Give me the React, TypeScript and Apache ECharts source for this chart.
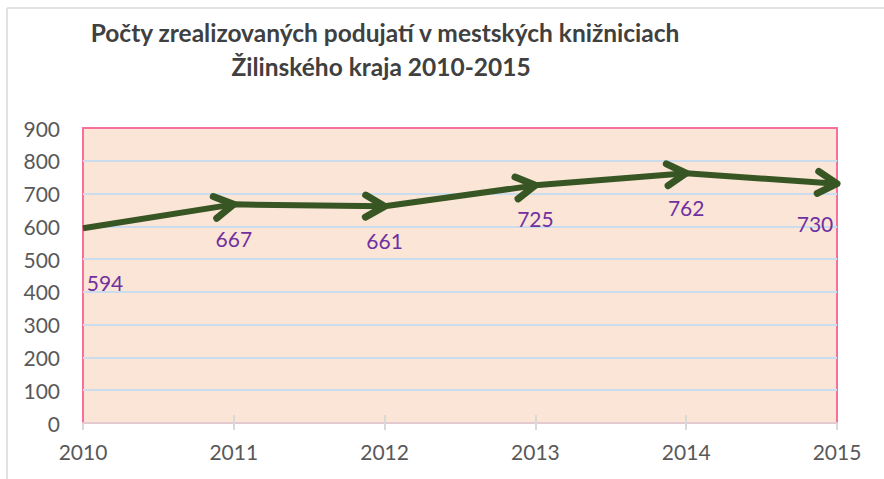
import React, { useEffect, useRef } from "react";
import * as echarts from "echarts";

const categories = ["2010", "2011", "2012", "2013", "2014", "2015"];
const values = [594, 667, 661, 725, 762, 730];
const labelOffsets: [number, number][] = [
  [22, 54],
  [0, 34],
  [0, 34],
  [0, 33],
  [0, 34],
  [-22, 40],
];
const titleLines = [
  "Počty zrealizovaných podujatí v mestských knižniciach",
  "Žilinského kraja 2010-2015",
];

const FONT = "Lato, 'Open Sans', sans-serif";
const LINE_COLOR = "#375623";

export default function App() {
  const ref = useRef<HTMLDivElement>(null);
  useEffect(() => {
    if (!ref.current) return;
    const chart = echarts.init(ref.current, undefined, { renderer: "svg" });
    const arrowData = values.slice(1).map((v, i) => [i + 1, v, i, values[i]]);
    chart.setOption({
      animation: false,
      backgroundColor: "#ffffff",
      textStyle: { fontFamily: FONT },
      graphic: [
        {
          type: "line",
          shape: { x1: 7, y1: 8, x2: 884, y2: 8 },
          style: { stroke: "#D9D9D9", lineWidth: 1.5 },
          silent: true,
        },
        {
          type: "line",
          shape: { x1: 7, y1: 8, x2: 7, y2: 479 },
          style: { stroke: "#D9D9D9", lineWidth: 1.5 },
          silent: true,
        },
        {
          type: "text",
          x: 385,
          y: 32,
          style: {
            text: titleLines[0],
            textAlign: "center",
            textVerticalAlign: "middle",
            fill: "#404040",
            font: `bold 24.5px ${FONT}`,
          },
        },
        {
          type: "text",
          x: 381,
          y: 66,
          style: {
            text: titleLines[1],
            textAlign: "center",
            textVerticalAlign: "middle",
            fill: "#404040",
            font: `bold 24.5px ${FONT}`,
          },
        },
      ],
      grid: {
        left: 83,
        right: 47,
        top: 128,
        bottom: 56,
        show: true,
        backgroundColor: "#FBE5D6",
        borderColor: "#F7709B",
        borderWidth: 2,
      },
      xAxis: [
        {
          type: "category",
          data: categories,
          boundaryGap: false,
          axisLine: { show: true, lineStyle: { color: "#E3C9D0", width: 2 } },
          axisTick: { show: true, length: 7, lineStyle: { color: "#D9D9D9", width: 2 } },
          axisLabel: { color: "#595959", fontSize: 21, margin: 18, fontFamily: FONT },
          splitLine: { show: false },
        },
        {
          type: "category",
          data: categories,
          boundaryGap: false,
          position: "bottom",
          axisLine: { show: false },
          axisTick: {
            show: true,
            inside: true,
            length: 8,
            interval: (idx: number) => idx > 0 && idx < categories.length - 1,
            lineStyle: { color: "#D9D9D9", width: 2 },
          },
          axisLabel: { show: false },
          splitLine: { show: false },
        },
      ],
      yAxis: {
        type: "value",
        min: 0,
        max: 900,
        interval: 100,
        axisLine: { show: false },
        axisTick: { show: false },
        axisLabel: { color: "#595959", fontSize: 21, margin: 23, fontFamily: FONT },
        splitLine: {
          show: true,
          showMaxLine: false,
          showMinLine: false,
          lineStyle: { color: "#CADDEF", width: 2 },
        },
      },
      series: [
        {
          type: "line",
          data: values.map((v, i) => ({
            value: v,
            label: { offset: labelOffsets[i] },
          })),
          lineStyle: { color: LINE_COLOR, width: 6 },
          itemStyle: { color: "rgba(0,0,0,0)" },
          symbol: "circle",
          symbolSize: 2,
          showSymbol: true,
          label: {
            show: true,
            position: "inside",
            color: "#7030A0",
            fontSize: 21,
            fontFamily: FONT,
          },
          z: 3,
        },
        {
          type: "custom",
          data: arrowData,
          encode: { x: 0, y: 1 },
          z: 4,
          renderItem: (params: any, api: any) => {
            const p1 = api.coord([api.value(0), api.value(1)]);
            const p0 = api.coord([api.value(2), api.value(3)]);
            const back = Math.atan2(p0[1] - p1[1], p0[0] - p1[0]);
            const L = 22;
            const half = (30 * Math.PI) / 180;
            const a = [p1[0] + L * Math.cos(back + half), p1[1] + L * Math.sin(back + half)];
            const b = [p1[0] + L * Math.cos(back - half), p1[1] + L * Math.sin(back - half)];
            return {
              type: "polyline",
              shape: { points: [a, p1, b] },
              style: {
                stroke: LINE_COLOR,
                fill: "none",
                lineWidth: 7,
                lineCap: "round",
                lineJoin: "round",
              },
            };
          },
        },
      ],
    });
    return () => chart.dispose();
  }, []);
  return <div ref={ref} style={{ width: 884, height: 479, position: "absolute", left: 0, top: 0 }} />;
}
